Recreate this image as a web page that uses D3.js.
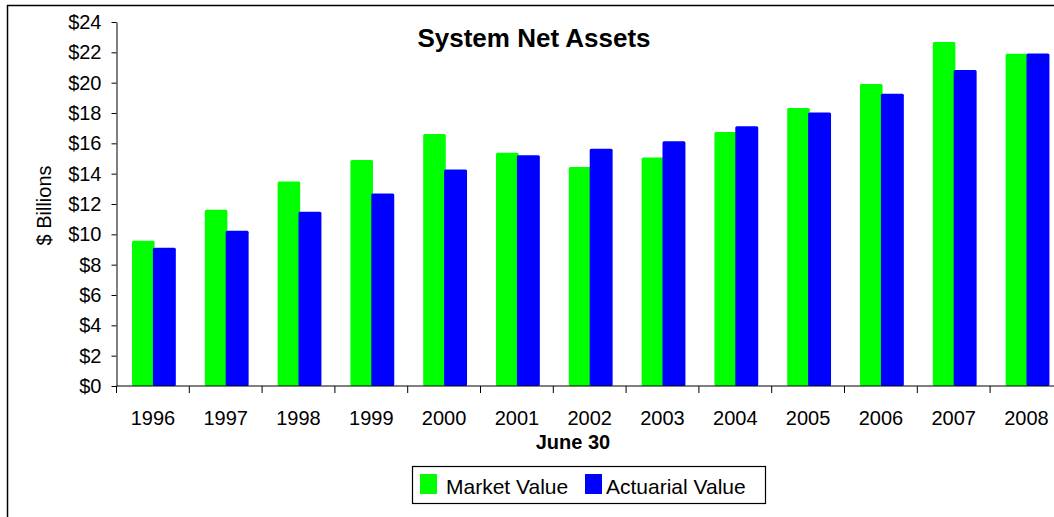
<!DOCTYPE html>
<html>
<head>
<meta charset="utf-8">
<script src="https://cdn.jsdelivr.net/npm/d3@7"></script>
<style>
  body { margin: 0; background: #fff; overflow: hidden; }
  svg { display: block; font-family: "Liberation Sans", Arial, sans-serif; }
</style>
</head>
<body>
<svg id="chart" width="1054" height="517"></svg>
<script>
const years = ["1996", "1997", "1998", "1999", "2000", "2001", "2002", "2003", "2004", "2005", "2006", "2007", "2008"];
const marketValue = [9.58, 11.62, 13.49, 14.9, 16.61, 15.38, 14.44, 15.07, 16.74, 18.33, 19.91, 22.68, 21.91];
const actuarialValue = [9.12, 10.24, 11.49, 12.7, 14.28, 15.21, 15.64, 16.13, 17.12, 18.04, 19.27, 20.83, 21.93];
const yTicks = [0, 2, 4, 6, 8, 10, 12, 14, 16, 18, 20, 22, 24];
const seriesNames = ["Market Value", "Actuarial Value"];
const colors = ["#00ff00", "#0000ff"];

const svg = d3.select("#chart");

// outer chart border
svg.append("rect")
  .attr("x", 7.5).attr("y", 5.5)
  .attr("width", 1100).attr("height", 600)
  .attr("fill", "none").attr("stroke", "#000").attr("stroke-width", 1.5);

const margin = { left: 116.5, top: 22, bottom: 386 };
const x = d3.scaleBand().domain(years).range([margin.left, margin.left + 72.8 * years.length]);
const y = d3.scaleLinear().domain([0, 24]).range([margin.bottom, margin.top]);

// bars
const bw = x.bandwidth();
svg.append("g").selectAll("rect")
  .data(years)
  .join("rect")
  .attr("x", d => x(d) + bw * 0.213)
  .attr("y", (d, i) => y(marketValue[i]))
  .attr("width", bw * 0.31)
  .attr("height", (d, i) => y(0) - y(marketValue[i]))
  .attr("rx", 1.5)
  .attr("fill", colors[0]);

svg.append("g").selectAll("rect")
  .data(years)
  .join("rect")
  .attr("x", d => x(d) + bw * 0.5)
  .attr("y", (d, i) => y(actuarialValue[i]))
  .attr("width", bw * 0.315)
  .attr("height", (d, i) => y(0) - y(actuarialValue[i]))
  .attr("rx", 1.5)
  .attr("fill", colors[1]);

// y axis
const yAxis = svg.append("g")
  .attr("transform", `translate(${margin.left},0)`)
  .call(d3.axisLeft(y).tickValues(yTicks).tickFormat(d => "$" + d).tickSize(5).tickSizeOuter(0).tickPadding(10));
yAxis.attr("font-size", null).attr("font-family", null);
yAxis.selectAll("text").style("font-size", "20px").attr("fill", "#000");
yAxis.selectAll("line, path").attr("stroke", "#000");

// x axis with ticks on category boundaries
const xAxisG = svg.append("g").attr("transform", `translate(0,${margin.bottom})`);
xAxisG.append("line")
  .attr("x1", x.range()[0]).attr("x2", x.range()[1])
  .attr("stroke", "#000");
xAxisG.selectAll("line.tick")
  .data(years)
  .join("line")
  .attr("class", "tick")
  .attr("x1", d => x(d) + bw).attr("x2", d => x(d) + bw)
  .attr("y1", 0).attr("y2", 7)
  .attr("stroke", "#000");
xAxisG.append("line")
  .attr("x1", x.range()[0]).attr("x2", x.range()[0])
  .attr("y1", 0).attr("y2", 7).attr("stroke", "#000");
xAxisG.selectAll("text")
  .data(years)
  .join("text")
  .attr("x", d => x(d) + bw / 2)
  .attr("y", 39)
  .attr("text-anchor", "middle")
  .style("font-size", "20px")
  .text(d => d);

// titles
svg.append("text")
  .attr("x", 534).attr("y", 47)
  .attr("text-anchor", "middle")
  .style("font-size", "26px").attr("font-weight", "bold")
  .text("System Net Assets");

svg.append("text")
  .attr("transform", "translate(51,205.5) rotate(-90)")
  .attr("text-anchor", "middle")
  .style("font-size", "20px")
  .text("$ Billions");

svg.append("text")
  .attr("x", 573).attr("y", 448.5)
  .attr("text-anchor", "middle")
  .style("font-size", "20px").attr("font-weight", "bold")
  .text("June 30");

// legend
const legend = svg.append("g");
legend.append("rect")
  .attr("x", 412.5).attr("y", 466.5)
  .attr("width", 353).attr("height", 37)
  .attr("fill", "#fff").attr("stroke", "#000").attr("stroke-width", 1.2);
const legendX = [420, 585];
const items = legend.selectAll("g.item")
  .data(seriesNames)
  .join("g")
  .attr("class", "item")
  .attr("transform", (d, i) => `translate(${legendX[i]},474)`);
items.append("rect")
  .attr("width", 17).attr("height", 20)
  .attr("fill", (d, i) => colors[i]);
items.append("text")
  .attr("x", (d, i) => i === 0 ? 26 : 21)
  .attr("y", 20)
  .style("font-size", "21px")
  .text(d => d);
</script>
</body>
</html>
